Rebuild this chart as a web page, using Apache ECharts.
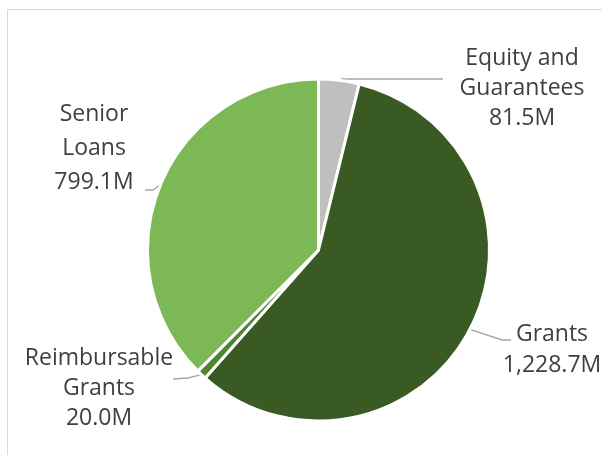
<!DOCTYPE html>
<html>
<head>
<meta charset="utf-8">
<style>
  html, body { margin: 0; padding: 0; background: #ffffff; }
  #chart { width: 602px; height: 455px; }
</style>
<script src="https://cdn.jsdelivr.net/npm/echarts@6/dist/echarts.min.js"></script>
</head>
<body>
<div id="chart"></div>
<script>
// Funding instruments, in millions
const categories = ['Equity and Guarantees', 'Grants', 'Reimbursable Grants', 'Senior Loans'];
const labelNames = ['Equity and\nGuarantees', 'Grants', 'Reimbursable\nGrants', 'Senior\nLoans'];
const values = [81.5, 1228.7, 20.0, 799.1];
const sliceColors = ['#bfbfbf', '#3a5a24', '#4f8530', '#7db856'];

// Where each label block sits and how its leader line bends
const labelPlacement = [
  { x: 522, y: 88,  lineHeight: 30, elbow: [342, 79],  end: [443, 79] },
  { x: 552, y: 350, lineHeight: 31, elbow: [502, 340], end: [511, 340] },
  { x: 99,  y: 388, lineHeight: 30, elbow: [188, 378], end: [173, 379] },
  { x: 94,  y: 148, lineHeight: 34, elbow: [153, 190], end: [145, 190] }
];

function fmtMillions(v) {
  return v.toLocaleString('en-US', { minimumFractionDigits: 1, maximumFractionDigits: 1 }) + 'M';
}

const chart = echarts.init(document.getElementById('chart'), null, { renderer: 'canvas' });

chart.setOption({
  animation: false,
  backgroundColor: '#ffffff',
  graphic: [{
    type: 'rect',
    shape: { x: 7.5, y: 9.5, width: 700, height: 600 },
    style: { fill: 'none', stroke: '#d9d9d9', lineWidth: 1 },
    silent: true
  }],
  series: [{
    type: 'pie',
    center: [318.5, 250],
    radius: 171,
    startAngle: 90,
    clockwise: true,
    avoidLabelOverlap: false,
    data: categories.map((name, i) => ({
      name: name,
      value: values[i],
      itemStyle: { color: sliceColors[i] },
      label: { lineHeight: labelPlacement[i].lineHeight }
    })),
    itemStyle: { borderColor: '#ffffff', borderWidth: 3 },
    label: {
      show: true,
      position: 'outside',
      formatter: p => labelNames[p.dataIndex] + '\n' + fmtMillions(p.value),
      fontFamily: '"Open Sans", sans-serif',
      fontSize: 23,
      lineHeight: 30,
      color: '#404040',
      align: 'center'
    },
    labelLine: {
      show: true,
      length: 10,
      length2: 20,
      lineStyle: { color: '#a6a6a6', width: 1.5 }
    },
    labelLayout: function (params) {
      const L = labelPlacement[params.dataIndex];
      const start = params.labelLinePoints ? params.labelLinePoints[0] : L.elbow;
      return {
        x: L.x,
        y: L.y,
        align: 'center',
        verticalAlign: 'middle',
        labelLinePoints: [start, L.elbow, L.end]
      };
    },
    emphasis: { disabled: true }
  }]
});
</script>
</body>
</html>
